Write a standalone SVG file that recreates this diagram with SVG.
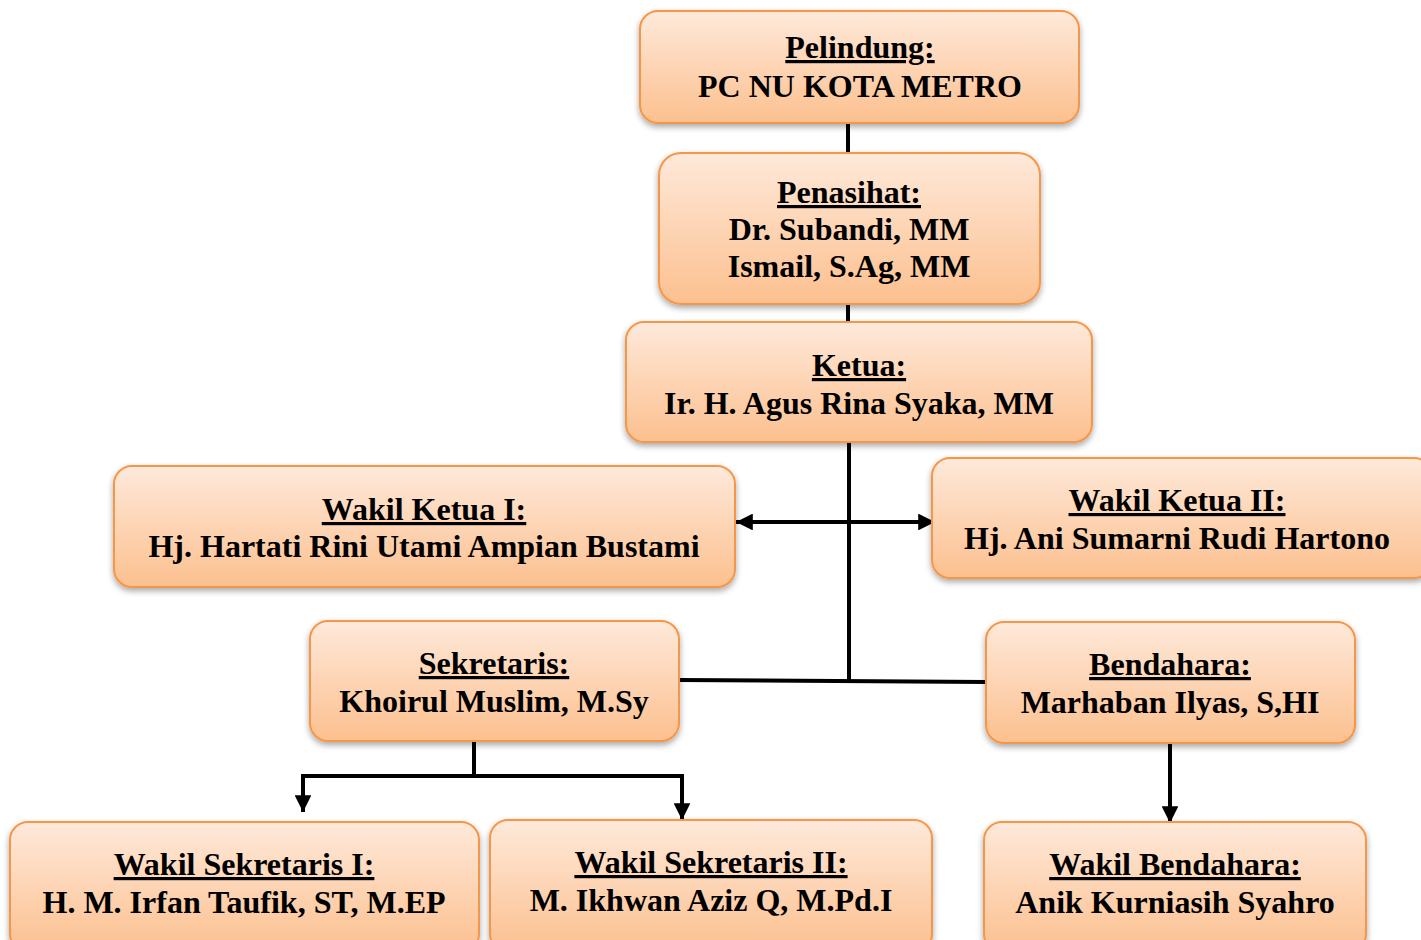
<svg xmlns="http://www.w3.org/2000/svg" width="1421" height="940" viewBox="0 0 1421 940">
<defs>
<linearGradient id="g" x1="0" y1="0" x2="0" y2="1">
<stop offset="0" stop-color="#FEE9DA"/>
<stop offset="1" stop-color="#FCC08F"/>
</linearGradient>
<filter id="sh" x="-5%" y="-10%" width="110%" height="130%">
<feDropShadow dx="0" dy="3" stdDeviation="3" flood-color="#000" flood-opacity="0.35"/>
</filter>
<marker id="ah" viewBox="0 0 10 10" refX="10" refY="5" markerWidth="4.2" markerHeight="4.2" orient="auto-start-reverse" markerUnits="strokeWidth">
<path d="M0,0 L10,5 L0,10 z" fill="#000"/>
</marker>
<style>
.box{fill:url(#g);stroke:#F79646;stroke-width:2;filter:url(#sh)}
.t{font-family:"Liberation Serif","Times New Roman",serif;font-weight:bold;font-size:32px;fill:#000;text-anchor:middle}
.u{text-decoration:underline}
.c{stroke:#000;stroke-width:4;fill:none}
</style>
</defs>
<rect width="1421" height="940" fill="#fff"/>
<g id="connectors">
<line class="c" x1="848" y1="123" x2="848" y2="153"/>
<line class="c" x1="848" y1="304" x2="848" y2="322"/>
<line class="c" x1="849" y1="442" x2="849" y2="681"/>
<line class="c" x1="736" y1="522" x2="935" y2="522" marker-start="url(#ah)" marker-end="url(#ah)"/>
<line class="c" x1="679" y1="680" x2="986" y2="682"/>
<line class="c" x1="474" y1="741" x2="474" y2="776"/>
<polyline class="c" points="303,812 303,776 682,776 682,820" marker-start="url(#ah)" marker-end="url(#ah)"/>
<line class="c" x1="1170" y1="743" x2="1170" y2="823" marker-end="url(#ah)"/>
</g>
<g id="pelindung">
<rect class="box" x="640" y="11" width="439" height="112" rx="18"/>
<text class="t u" x="860" y="58">Pelindung:</text>
<text class="t" x="860" y="97">PC NU KOTA METRO</text>
</g>
<g id="penasihat">
<rect class="box" x="659" y="153" width="381" height="151" rx="22"/>
<text class="t u" x="849" y="203">Penasihat:</text>
<text class="t" x="849" y="240">Dr. Subandi, MM</text>
<text class="t" x="849" y="277">Ismail, S.Ag, MM</text>
</g>
<g id="ketua">
<rect class="box" x="626" y="322" width="466" height="120" rx="18"/>
<text class="t u" x="859" y="376">Ketua:</text>
<text class="t" x="859" y="414">Ir. H. Agus Rina Syaka, MM</text>
</g>
<g id="wakil-ketua-1">
<rect class="box" x="114" y="466" width="621" height="121" rx="18"/>
<text class="t u" x="424" y="520">Wakil Ketua I:</text>
<text class="t" x="424" y="557">Hj. Hartati Rini Utami Ampian Bustami</text>
</g>
<g id="wakil-ketua-2">
<rect class="box" x="932" y="458" width="500" height="120" rx="18"/>
<text class="t u" x="1177" y="511">Wakil Ketua II:</text>
<text class="t" x="1177" y="549">Hj. Ani Sumarni Rudi Hartono</text>
</g>
<g id="sekretaris">
<rect class="box" x="310" y="621" width="369" height="120" rx="18"/>
<text class="t u" x="494" y="674">Sekretaris:</text>
<text class="t" x="494" y="712">Khoirul Muslim, M.Sy</text>
</g>
<g id="bendahara">
<rect class="box" x="986" y="622" width="369" height="121" rx="18"/>
<text class="t u" x="1170" y="675">Bendahara:</text>
<text class="t" x="1170" y="713">Marhaban Ilyas, S,HI</text>
</g>
<g id="wakil-sekretaris-1">
<rect class="box" x="10" y="822" width="469" height="130" rx="18"/>
<text class="t u" x="244" y="875">Wakil Sekretaris I:</text>
<text class="t" x="244" y="913">H. M. Irfan Taufik, ST, M.EP</text>
</g>
<g id="wakil-sekretaris-2">
<rect class="box" x="490" y="820" width="442" height="132" rx="18"/>
<text class="t u" x="711" y="873">Wakil Sekretaris II:</text>
<text class="t" x="711" y="911">M. Ikhwan Aziz Q, M.Pd.I</text>
</g>
<g id="wakil-bendahara">
<rect class="box" x="984" y="822" width="382" height="130" rx="18"/>
<text class="t u" x="1175" y="875">Wakil Bendahara:</text>
<text class="t" x="1175" y="913">Anik Kurniasih Syahro</text>
</g>
</svg>
